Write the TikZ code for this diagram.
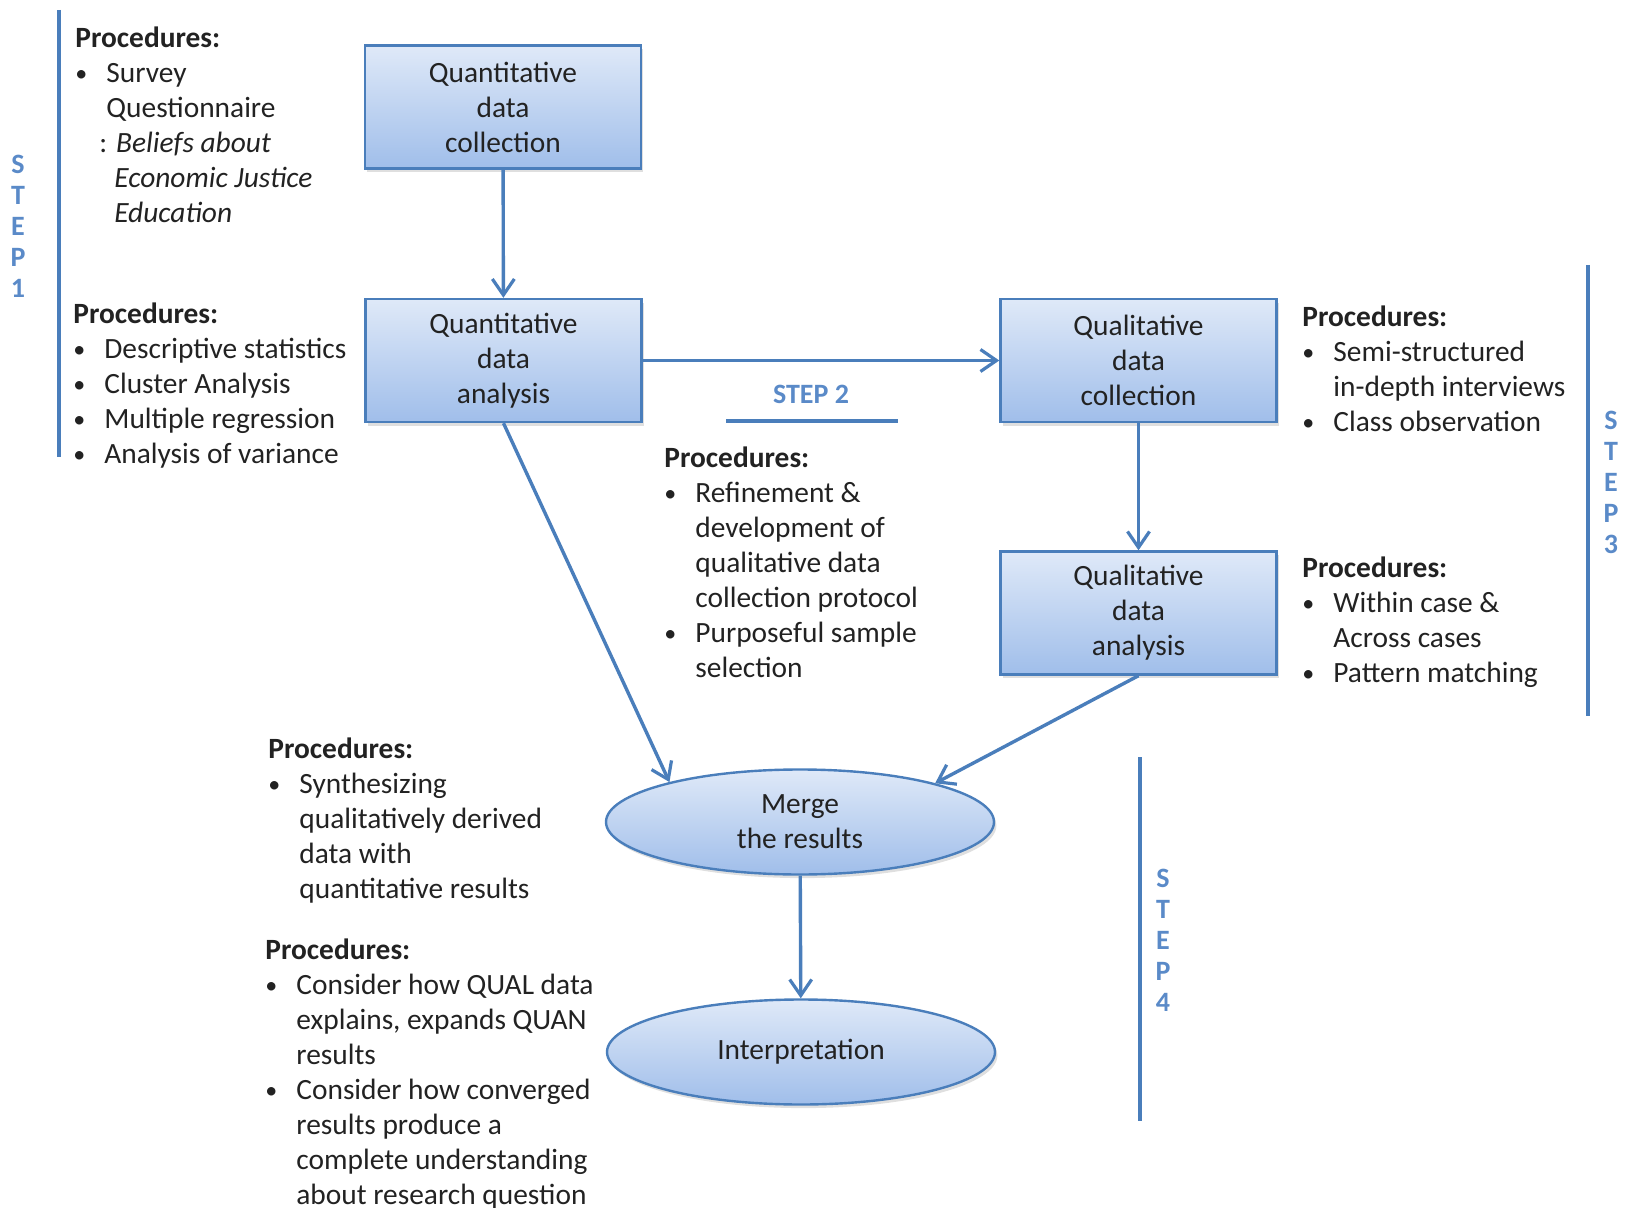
\documentclass[tikz,border=0pt]{standalone}
\usepackage{fontspec}
\setmainfont{Carlito}
\usetikzlibrary{arrows.meta,shapes.geometric,shadows}

\definecolor{flowline}{HTML}{4A7EBB}
\definecolor{fill top}{HTML}{DFE9F8}
\definecolor{fill bot}{HTML}{A0BEEA}
\definecolor{steptext}{HTML}{5A8AC8}
\definecolor{bodytext}{HTML}{222222}

\newcommand{\itm}[1]{\makebox[15.5pt][l]{\raisebox{0.5pt}{\fontsize{12}{12}\selectfont\textbullet}}#1}
\newcommand{\cnt}[1]{\hspace*{15.5pt}#1}

\begin{document}
\begin{tikzpicture}[x=0.5pt,y=-0.5pt,
  font=\fontsize{14.7}{17.5}\selectfont,
  qbox/.style={rectangle,draw=flowline,line width=1.2pt,top color=fill top,bottom color=fill bot,
    minimum width=138pt,minimum height=61.5pt,align=center,text=bodytext,
    drop shadow={opacity=0.25,shadow xshift=1.2pt,shadow yshift=-1.8pt}},
  qell/.style={ellipse,draw=flowline,line width=1.2pt,top color=fill top,bottom color=fill bot,
    minimum width=194pt,minimum height=52.5pt,inner sep=0pt,align=center,text=bodytext,
    drop shadow={opacity=0.25,shadow xshift=1.2pt,shadow yshift=-1.8pt}},
  proc/.style={anchor=north west,align=left,inner sep=0pt,text=bodytext},
  steplbl/.style={align=center,inner sep=0pt,text=steptext,
    font=\fontsize{14}{15.5}\selectfont\bfseries},
  stepline/.style={draw=flowline,line width=1.6pt},
  flow/.style={draw=flowline,line width=1.7pt,-{Straight Barb[length=8pt,width=11pt,line width=1.6pt]}}
  ]
  \useasboundingbox (0,0) rectangle (1627,1208);

  % boxes
  \node[qbox] (qnc) at (503,107) {Quantitative\\data\\collection};
  \node[qbox] (qna) at (503.5,360.5) {Quantitative\\data\\analysis};
  \node[qbox] (qlc) at (1138.5,360.5) {Qualitative\\data\\collection};
  \node[qbox] (qla) at (1138.5,613) {Qualitative\\data\\analysis};
  \node[qell] (mrg) at (800,822) {Merge\\the results};
  \node[qell] (itp) at (801,1052) {Interpretation};

  % procedures
  \node[proc] (p1) at (75,26) {\textbf{Procedures:}\\
    \itm{Survey}\\
    \cnt{Questionnaire}\\
    \hspace*{12pt}: \textit{Beliefs about}\\
    \hspace*{19.5pt}\textit{Economic Justice}\\
    \hspace*{19.5pt}\textit{Education}};
  \node[proc] (p2) at (73,302) {\textbf{Procedures:}\\
    \itm{Descriptive statistics}\\
    \itm{Cluster Analysis}\\
    \itm{Multiple regression}\\
    \itm{Analysis of variance}};
  \node[proc] (p3) at (664,446) {\textbf{Procedures:}\\
    \itm{Refinement \&}\\
    \cnt{development of}\\
    \cnt{qualitative data}\\
    \cnt{collection protocol}\\
    \itm{Purposeful sample}\\
    \cnt{selection}};
  \node[proc] (p4) at (1302,305) {\textbf{Procedures:}\\
    \itm{Semi-structured}\\
    \cnt{in-depth interviews}\\
    \itm{Class observation}};
  \node[proc] (p5) at (1302,556) {\textbf{Procedures:}\\
    \itm{Within case \&}\\
    \cnt{Across cases}\\
    \itm{Pattern matching}};
  \node[proc] (p6) at (268,737) {\textbf{Procedures:}\\
    \itm{Synthesizing}\\
    \cnt{qualitatively derived}\\
    \cnt{data with}\\
    \cnt{quantitative results}};
  \node[proc] (p7) at (265,938) {\textbf{Procedures:}\\
    \itm{Consider how QUAL data}\\
    \cnt{explains, expands QUAN}\\
    \cnt{results}\\
    \itm{Consider how converged}\\
    \cnt{results produce a}\\
    \cnt{complete understanding}\\
    \cnt{about research question}};

  % steps
  \node[steplbl] (s1) at (18,226) {S\\T\\E\\P\\1};
  \node[steplbl] (s2) at (811,394) {STEP 2};
  \node[steplbl] (s3) at (1611,482) {S\\T\\E\\P\\3};
  \node[steplbl] (s4) at (1163,940) {S\\T\\E\\P\\4};
  \coordinate (l1a) at (59,10);    \coordinate (l1b) at (59,457);
  \coordinate (l2a) at (726,421);  \coordinate (l2b) at (898,421);
  \coordinate (l3a) at (1588,265); \coordinate (l3b) at (1588,716);
  \coordinate (l4a) at (1140,757); \coordinate (l4b) at (1140,1121);
  \path[stepline] (l1a) -- (l1b) (l3a) -- (l3b) (l4a) -- (l4b);
  \path[stepline,line width=2pt] (l2a) -- (l2b);

  % arrows
  \path[flow] (qnc) -- (qna);
  \path[flow] (qna) -- (qlc);
  \path[flow] (qlc) -- (qla);
  \path[flow] (qna.south) -- (mrg.163);
  \path[flow] (qla.south) -- (mrg.16);
  \path[flow] (mrg) -- (itp);
\end{tikzpicture}
\end{document}
